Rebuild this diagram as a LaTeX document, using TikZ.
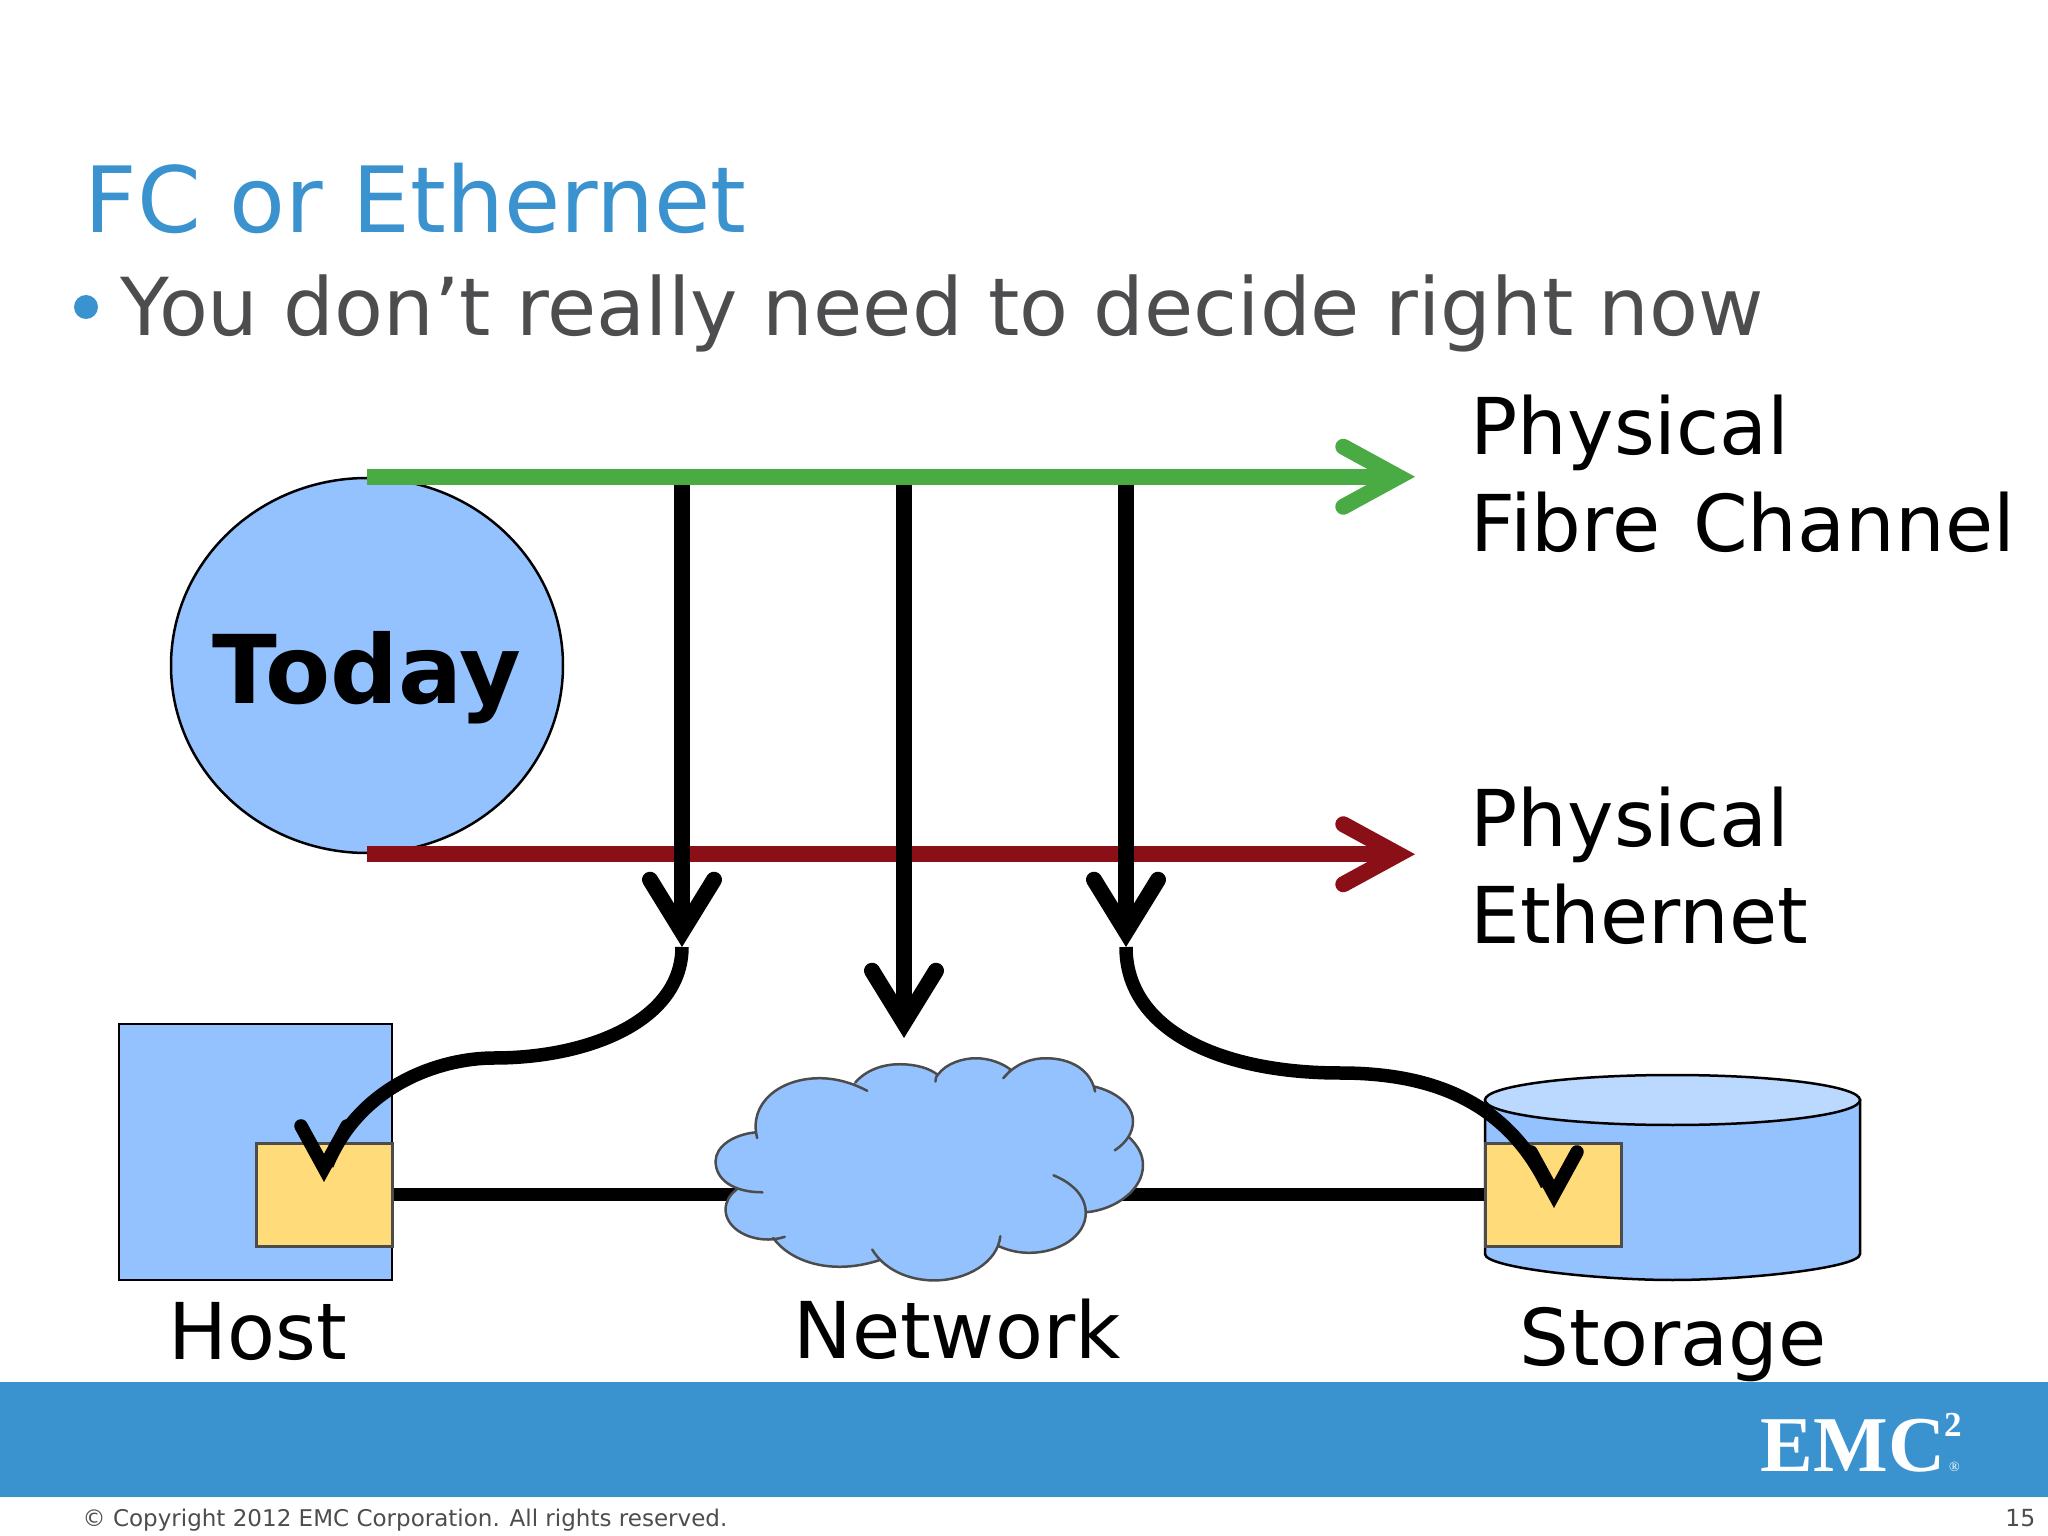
\documentclass[tikz,border=0pt]{standalone}
\usepackage{fontspec}
\usepackage{xcolor}
\setmainfont{DejaVu Sans}
\newfontfamily\logofont{Liberation Serif}
\usetikzlibrary{arrows.meta, positioning, shapes.geometric}
\definecolor{emcblue}{HTML}{3A92CE}
\definecolor{slategrey}{HTML}{4D4D4F}
\definecolor{partblue}{HTML}{93C2FF}
\definecolor{lidblue}{HTML}{BBD9FF}
\definecolor{portyellow}{HTML}{FFDB7A}
\definecolor{fibregreen}{HTML}{4AAB44}
\definecolor{ethred}{HTML}{8B0F16}
\tikzset{
  labeltext/.style={inner sep=0pt, font=\fontsize{22.3}{27.5}\selectfont, align=left},
  portbox/.style={draw=black!70, line width=0.03cm, fill=portyellow, minimum width=1.36cm, minimum height=1.03cm, inner sep=0pt},
  pathline/.style={line width=0.16cm, -{Straight Barb[length=0.55cm, width=0.6cm, line cap=round, line join=miter]}},
  tapline/.style={line width=0.16cm, black, -{Straight Barb[length=0.52cm, width=0.64cm, line cap=round, line join=miter]}},
  bendline/.style={line width=0.135cm, black},
  bendtip/.style={line width=0.135cm, black, -{Straight Barb[length=0.42cm, width=0.46cm, line cap=round, line join=miter]}},
  cloudline/.style={draw=black!70, line width=0.025cm, line cap=round},
}
% Outline of the cloud, one piece per lobe
\newcommand{\cloudlobes}{
  (232,355) .. controls (205,250) and (300,175) .. (420,175) .. controls (470,175) and (520,190) .. (563,213)
  (527,188) .. controls (560,150) and (610,133) .. (660,133) .. controls (710,133) and (750,145) .. (775,165) .. controls (770,170) .. (768,185)
  (775,165) .. controls (800,130) and (850,115) .. (890,115) .. controls (930,115) and (970,130) .. (995,150) -- (972,175)
  (972,175) .. controls (1005,135) and (1050,115) .. (1100,115) .. controls (1175,115) and (1235,150) .. (1248,215)
  (1245,200) .. controls (1310,215) and (1362,255) .. (1362,305) .. controls (1362,340) and (1340,370) .. (1307,392)
  (1350,352) .. controls (1378,380) and (1392,405) .. (1392,437) .. controls (1392,510) and (1310,570) .. (1222,578)
  (1123,467) .. controls (1180,490) and (1220,530) .. (1220,580) .. controls (1220,650) and (1140,700) .. (1050,700) .. controls (1015,700) and (985,692) .. (958,680)
  (963,650) .. controls (955,730) and (860,783) .. (765,783) .. controls (680,783) and (610,745) .. (578,690)
  (600,722) .. controls (560,735) and (520,742) .. (480,742) .. controls (395,742) and (320,710) .. (280,655)
  (315,652) .. controls (295,658) and (280,660) .. (265,660) .. controls (195,660) and (137,620) .. (137,570) .. controls (137,545) and (150,525) .. (170,510)
  (248,518) .. controls (160,518) and (107,480) .. (107,425) .. controls (107,380) and (160,345) .. (225,338)
}
\begin{document}
\begin{tikzpicture}[x=1cm, y=-1cm]
    \useasboundingbox (0,0) rectangle (20.48,15.36);

    % Title and bullet line
    \node[inner sep=0pt, anchor=base west, text=emcblue, font=\fontsize{26}{30}\selectfont] (title) at (0.84,2.33) {FC or Ethernet};
    \fill[emcblue] (0.86,3.07) circle (0.12);
    \node[inner sep=0pt, anchor=base west, text=slategrey, font=\fontsize{22.75}{28}\selectfont] (bullet) at (1.2,3.36) {You don’t really need to decide right now};

    % Bottom banner
    \fill[emcblue] (0,13.82) rectangle (20.48,14.97);
    \node[inner sep=0pt, anchor=base west, text=white, font=\logofont\bfseries\fontsize{22.5}{24}\selectfont] (logo) at (17.6,14.71) {EMC\rlap{\hspace{-0.01cm}\raisebox{0.35cm}{\fontsize{10}{11}\selectfont 2}}\rlap{\hspace{0.04cm}\fontsize{4}{5}\selectfont\mdseries ®}};
    \node[inner sep=0pt, anchor=base west, text=slategrey, font=\fontsize{6.55}{8}\selectfont] (copyright) at (0.82,15.26) {© Copyright 2012 EMC Corporation. All rights reserved.};
    \node[inner sep=0pt, anchor=base east, text=slategrey, font=\fontsize{6.7}{8}\selectfont] (pagenum) at (20.36,15.26) {15};

    % Host, network and storage
    \node[draw, line width=0.025cm, fill=partblue, minimum width=2.73cm, minimum height=2.56cm, inner sep=0pt] (host) at (2.555,11.52) {};
    \draw[line width=0.025cm, fill=partblue] (14.85,11.0) -- (14.85,12.54) .. controls (14.85,12.68) and (16.0,12.8) .. (16.725,12.8) .. controls (17.45,12.8) and (18.6,12.68) .. (18.6,12.54) -- (18.6,11.0) -- cycle;
    \draw[line width=0.025cm, fill=lidblue] (16.725,11.0) ellipse (1.875 and 0.25);
    \node[portbox] (hostport) at (3.24,11.945) {};
    \node[portbox] (storeport) at (15.53,11.945) {};
    \node[minimum width=3.4cm, minimum height=1.8cm, inner sep=0pt] (cloud) at (9.3,11.945) {};
    \draw[line width=0.13cm] (hostport) -- (cloud);
    \draw[line width=0.13cm] (cloud) -- (storeport);
    \begin{scope}[shift={(6.8,10.2)}, x=0.0033333cm, y=-0.0033333cm]
        \fill[partblue] (226,336) -- (528,186) -- (775,162) -- (987,150) -- (1248,197) -- (1352,350) -- (1224,580) -- (958,682) -- (598,724) -- (281,658) -- (168,510) -- cycle;
        \fill[partblue] \cloudlobes;
        \draw[cloudline] \cloudlobes;
    \end{scope}
    \node[labeltext, anchor=base] (hostlabel) at (2.58,13.59) {Host};
    \node[labeltext, anchor=base] (netlabel) at (9.57,13.58) {Network};
    \node[labeltext, anchor=base] (storelabel) at (16.73,13.65) {Storage};

    % Today bubble and the two paths
    \coordinate (fibreend) at (14.15,4.78);
    \coordinate (ethend) at (14.15,8.53);
    \node[draw, ellipse, line width=0.025cm, fill=partblue, minimum width=3.92cm, minimum height=3.75cm, inner sep=0pt] (today) at (3.67,6.655) {};
    \node[inner sep=0pt, font=\bfseries\fontsize{27}{28}\selectfont] (todaytext) at (3.67,6.78) {Today};
    \draw[ethred, pathline] (today.south) -- (today.south -| ethend);

    % Labels of the paths
    \node[labeltext, anchor=west] (fibrelabel) at (14.7,4.74) {Physical\\Fibre\hspace{0.08cm} Channel};
    \node[labeltext, anchor=west] (ethlabel) at (14.7,8.66) {Physical\\Ethernet};

    % Taps from the green path down to the parts
    \coordinate (tapa) at (6.82,4.77);
    \coordinate (tapb) at (9.04,4.77);
    \coordinate (tapc) at (11.26,4.77);
    \coordinate (tipa) at (6.82,9.47);
    \coordinate (tipb) at (9.04,10.38);
    \coordinate (tipc) at (11.26,9.47);
    \coordinate (hostbend) at (3.27,11.65);
    \coordinate (hostneck) at (3.24,11.62);
    \coordinate (hosttip) at (3.24,11.82);
    \coordinate (storebend) at (15.47,11.85);
    \coordinate (storeneck) at (15.54,11.88);
    \coordinate (storetip) at (15.54,12.08);
    \draw[tapline] (tapa) -- (tipa);
    \draw[tapline] (tapb) -- (tipb);
    \draw[tapline] (tapc) -- (tipc);
    \draw[bendline] (tipa) .. controls (6.82,10.2) and (5.9,10.58) .. (4.94,10.58) .. controls (4.4,10.58) and (3.6,10.85) .. (hostbend);
    \draw[bendtip] (hostneck) -- (hosttip);
    \draw[bendline] (tipc) .. controls (11.26,10.3) and (12.2,10.73) .. (13.4,10.73) .. controls (14.3,10.73) and (15.05,11.0) .. (storebend);
    \draw[bendtip] (storeneck) -- (storetip);
    \draw[fibregreen, pathline] (today.north) -- (today.north -| fibreend);
\end{tikzpicture}
\end{document}
